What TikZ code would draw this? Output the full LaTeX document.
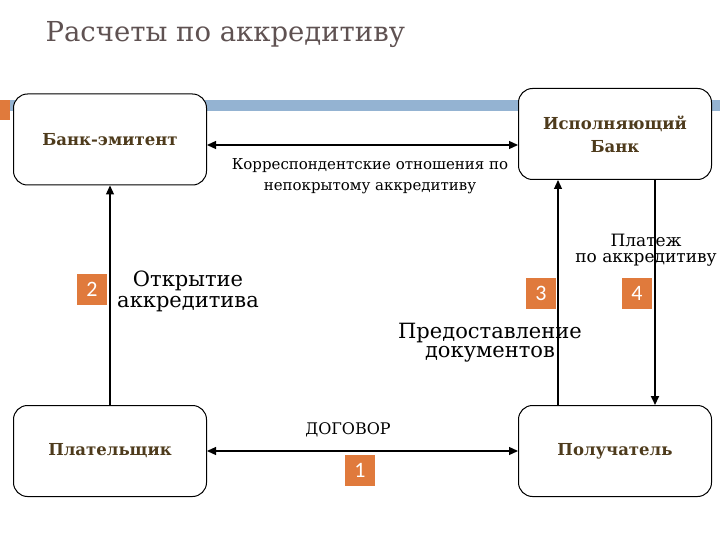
\documentclass[tikz,border=0pt]{standalone}
\usepackage{fontspec}
\setmainfont{DejaVu Serif}
\newfontfamily\badgefont{Carlito}
\usetikzlibrary{arrows.meta}
\definecolor{bandblue}{RGB}{148,179,210}
\definecolor{badgeorange}{RGB}{224,122,60}
\definecolor{labelbrown}{RGB}{78,59,28}
\definecolor{titlegray}{RGB}{95,82,82}
\tikzset{
  party/.style={draw, line width=1pt, rounded corners=14pt, fill=white,
    minimum width=193pt, minimum height=91pt, align=center, text=labelbrown,
    font=\bfseries\fontsize{16.5}{23}\selectfont},
  badge/.style={fill=badgeorange, text=white, minimum width=30pt,
    minimum height=31pt, inner sep=0pt, font=\badgefont\fontsize{22}{22}\selectfont},
  note/.style={align=center, inner sep=0pt},
}

\begin{document}
\begin{tikzpicture}[x=1pt,y=-1pt,>={Triangle[length=9pt,width=8pt]},line width=1.2pt]
  \useasboundingbox (0,0) rectangle (720,540);
  \fill[badgeorange] (0,100) rectangle (10,120);
  \fill[bandblue] (10,100) rectangle (720,111);
  \node[anchor=base west, inner sep=0pt, text=titlegray, font=\fontsize{27.5}{30}\selectfont] (title) at (45,42) {Расчеты по аккредитиву};
  \node[party] (issuer) at (110,139.5) {Банк-эмитент};
  \node[party] (exec) at (615,134) {Исполняющий\\Банк};
  \node[party] (payer) at (110,451) {Плательщик};
  \node[party] (recv) at (615,451) {Получатель};
  \draw [<->] ([yshift=-5.5pt]issuer.east) -- ([yshift=-5.5pt]issuer.east -| exec.west);
  \draw [<->] (payer) -- (recv);
  \draw [->] (payer) -- (issuer);
  \draw [->] ([xshift=-57pt]recv.north) -- ([xshift=-57pt]exec.south);
  \draw [->, line width=2pt] ([xshift=40pt]exec.south) -- ([xshift=40pt]recv.north);
  \node[note, font=\fontsize{15}{21}\selectfont] (corr) at (370,176) {Корреспондентские отношения по\\непокрытому аккредитиву};
  \node[note, font=\fontsize{21}{21}\selectfont] (open) at (188,291) {Открытие\\аккредитива};
  \node[note, font=\fontsize{17}{15.5}\selectfont] (pay) at (646,250) {Платеж\\по аккредитиву};
  \node[note, font=\fontsize{21}{19}\selectfont] (docs) at (490,343) {Предоставление\\документов};
  \node[note, font=\fontsize{16}{20}\selectfont] (deal) at (348,430) {ДОГОВОР};
  \node[badge] (n1) at (360,470) {1};
  \node[badge] (n2) at (92,289) {2};
  \node[badge] (n3) at (541,293) {3};
  \node[badge] (n4) at (637,293) {4};
\end{tikzpicture}
\end{document}
